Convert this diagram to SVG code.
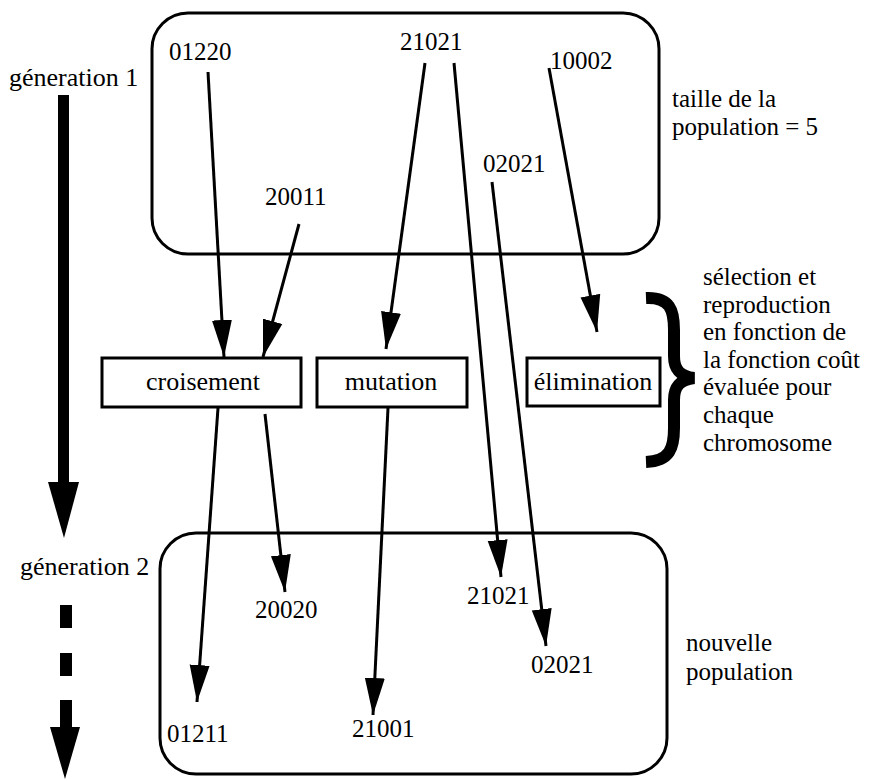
<svg xmlns="http://www.w3.org/2000/svg" width="880" height="781" viewBox="0 0 880 781">
<style>
text{font-family:"Liberation Serif","Times New Roman",serif;font-size:25px;fill:#000}
.lbl{font-size:26px}
.box{fill:#fff;stroke:#000;stroke-width:3}
.pop{fill:none;stroke:#000;stroke-width:3}
.c{stroke:#000;stroke-width:3;fill:none;marker-end:url(#ah)}
</style>
<defs>
<marker id="ah" markerUnits="userSpaceOnUse" markerWidth="38" markerHeight="22" viewBox="0 0 38 22" refX="37" refY="11" orient="auto">
<path d="M0,1 L37,11 L0,21 z" fill="#000"/>
</marker>
</defs>
<rect width="880" height="781" fill="#fff"/>
<g id="generation-arrow">
<text class="lbl" x="9" y="86">géneration 1</text>
<rect x="58" y="95" width="11" height="390" fill="#000"/>
<polygon points="48,482 79,482 64,538" fill="#000"/>
<text class="lbl" x="20" y="575">géneration 2</text>
<rect x="60" y="605" width="12" height="23" fill="#000"/>
<rect x="60" y="653" width="12" height="23" fill="#000"/>
<rect x="60" y="700" width="12" height="27" fill="#000"/>
<polygon points="50,727 80,727 65,779" fill="#000"/>
</g>
<g id="population1">
<rect class="pop" x="152" y="13" width="507" height="241" rx="36" ry="36"/>
<text x="169" y="60">01220</text>
<text x="400" y="50">21021</text>
<text x="550" y="69">10002</text>
<text x="483" y="172">02021</text>
<text x="265" y="205">20011</text>
<text x="672" y="107">taille de la</text>
<text x="672" y="135">population = 5</text>
</g>
<g id="croisement">
<rect class="box" x="102" y="358" width="199" height="49"/>
<text class="lbl" x="203" y="390" text-anchor="middle">croisement</text>
</g>
<g id="mutation">
<rect class="box" x="317" y="358" width="150" height="49"/>
<text class="lbl" x="391" y="390" text-anchor="middle">mutation</text>
</g>
<g id="elimination">
<rect class="box" x="527" y="358" width="133" height="48"/>
<text class="lbl" x="593" y="390" text-anchor="middle">élimination</text>
</g>
<g id="selection">
<path d="M646,298 C670,297 674,310 674,330 L674,356 C674,370 680,376 694,378 C680,380 674,386 674,400 L674,428 C674,448 670,461 646,462" fill="none" stroke="#000" stroke-width="12"/>
<text x="703" y="285">sélection et</text>
<text x="703" y="313">reproduction</text>
<text x="703" y="340">en fonction de</text>
<text x="703" y="368">la fonction coût</text>
<text x="703" y="395">évaluée pour</text>
<text x="703" y="423">chaque</text>
<text x="703" y="451">chromosome</text>
</g>
<g id="population2">
<rect class="pop" x="160" y="533" width="507" height="241" rx="36" ry="36"/>
<text x="255" y="618">20020</text>
<text x="467" y="604">21021</text>
<text x="531" y="673">02021</text>
<text x="167" y="742">01211</text>
<text x="352" y="737">21001</text>
<text x="686" y="651">nouvelle</text>
<text x="686" y="680">population</text>
</g>
<g id="connectors">
<line class="c" x1="208" y1="72" x2="224" y2="357"/>
<line class="c" x1="299" y1="224" x2="263" y2="357"/>
<line class="c" x1="425" y1="63" x2="386" y2="349"/>
<line class="c" x1="454" y1="63" x2="501" y2="577"/>
<line class="c" x1="492" y1="182" x2="546" y2="646"/>
<line class="c" x1="549" y1="68" x2="597" y2="332"/>
<line class="c" x1="218" y1="408" x2="197" y2="702"/>
<line class="c" x1="265" y1="414" x2="285" y2="592"/>
<line class="c" x1="388" y1="408" x2="373" y2="715"/>
</g>
</svg>
